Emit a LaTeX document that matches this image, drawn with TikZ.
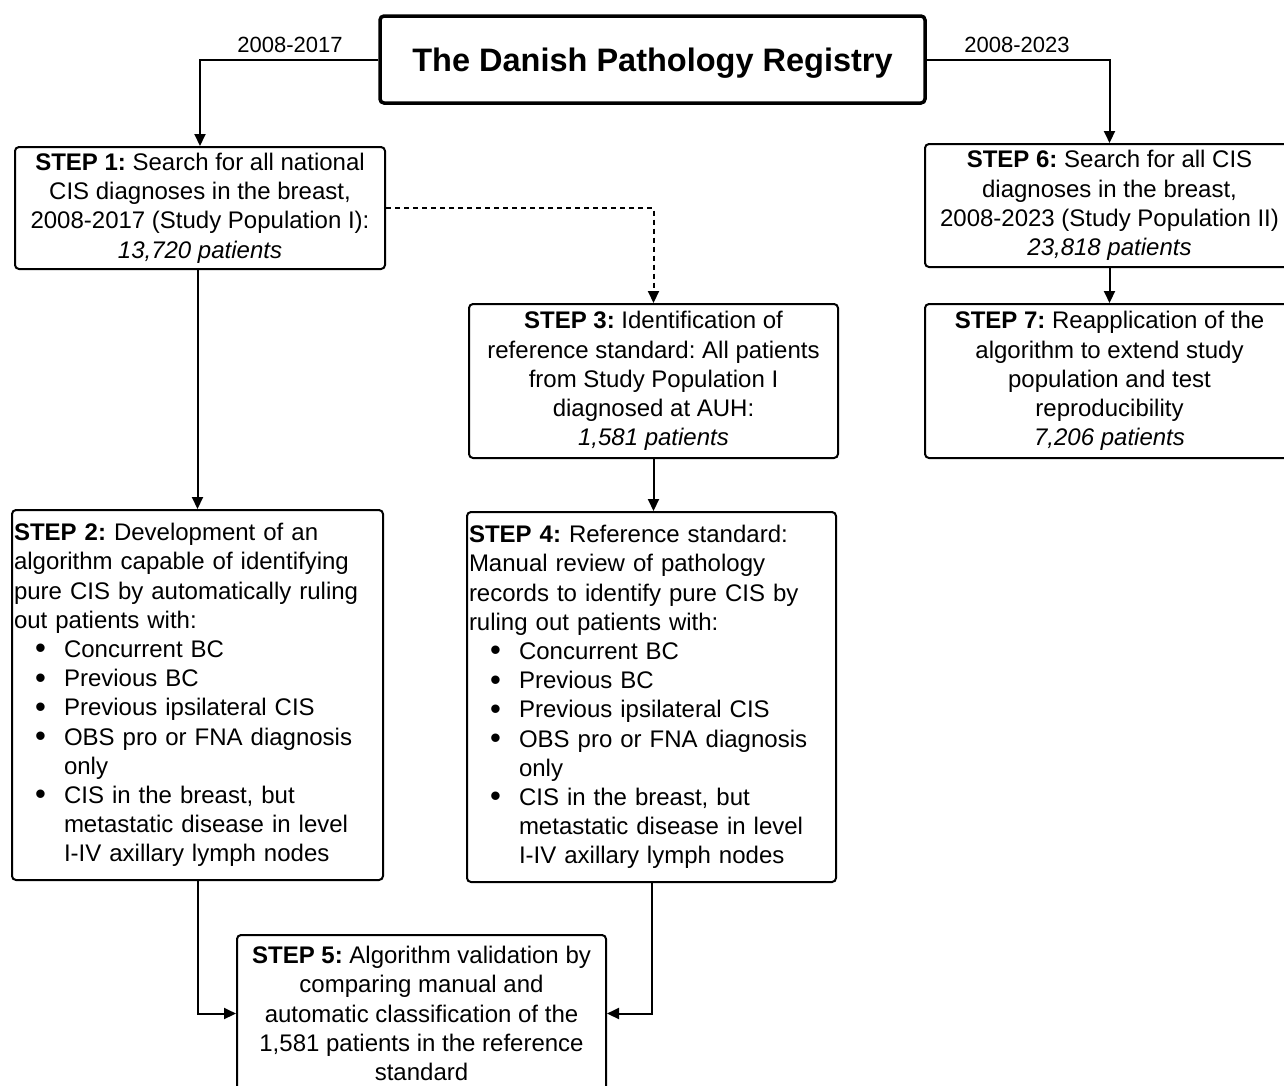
\documentclass[tikz,border=0pt]{standalone}
\usepackage{fontspec}
\setmainfont{Liberation Sans}
\usetikzlibrary{arrows.meta}
\frenchspacing
\newcommand{\blt}[1]{\hspace*{21pt}\makebox[29pt][l]{\raisebox{-1.5pt}{\fontsize{31}{29}\selectfont\textbullet}}#1}
\newcommand{\bcont}[1]{\hspace*{50pt}#1}
\begin{document}
\begin{tikzpicture}[x=1pt,y=-1pt,
  box/.style={draw, line width=2pt, rounded corners=4pt, inner sep=2pt, font=\fontsize{24}{29.2}\selectfont},
  cbox/.style={box, align=center},
  lbox/.style={box, align=left},
  arr/.style={line width=2pt, -{Triangle[length=12pt,width=11pt]}},
  yr/.style={font=\fontsize{22}{26}\selectfont, inner sep=0pt}]
\clip (0,0) rectangle (1284,1085);
\node[box, line width=3.5pt, font=\bfseries\fontsize{32.5}{38}\selectfont, minimum width=545pt, minimum height=87pt, text depth=0pt] (title) at (652.5,59.5) {The Danish Pathology Registry};
\node[cbox, minimum width=370pt, minimum height=122pt] (step1) at (200,208)
 {\textbf{STEP 1:} Search for all national\\CIS diagnoses in the breast,\\2008-2017 (Study Population I):\\\textit{13,720 patients}};
\node[cbox, minimum width=369pt, minimum height=123pt] (step6) at (1109.5,205.5)
 {\textbf{STEP 6:} Search for all CIS\\diagnoses in the breast,\\2008-2023 (Study Population II)\\\textit{23,818 patients}};
\node[cbox, minimum width=369pt, minimum height=154pt] (step7) at (1109.5,381)
 {\textbf{STEP 7:} Reapplication of the\\algorithm to extend study\\population and test\\reproducibility\\\textit{7,206 patients}};
\node[cbox, minimum width=369pt, minimum height=154pt] (step3) at (653.5,381)
 {\textbf{STEP 3:} Identification of\\reference standard: All patients\\from Study Population I\\diagnosed at AUH:\\\textit{1,581 patients}};
\node[lbox, text width=367pt, minimum height=370pt] (step2) at (197.5,695)
 {\textbf{STEP 2:} Development of an\\algorithm capable of identifying\\pure CIS by automatically ruling\\out patients with:\\
 \blt{Concurrent BC}\\\blt{Previous BC}\\\blt{Previous ipsilateral CIS}\\\blt{OBS pro or FNA diagnosis}\\\bcont{only}\\\blt{CIS in the breast, but}\\\bcont{metastatic disease in level}\\\bcont{I-IV axillary lymph nodes}};
\node[lbox, text width=365pt, minimum height=370pt] (step4) at (651.5,697)
 {\textbf{STEP 4:} Reference standard:\\Manual review of pathology\\records to identify pure CIS by\\ruling out patients with:\\
 \blt{Concurrent BC}\\\blt{Previous BC}\\\blt{Previous ipsilateral CIS}\\\blt{OBS pro or FNA diagnosis}\\\bcont{only}\\\blt{CIS in the breast, but}\\\bcont{metastatic disease in level}\\\bcont{I-IV axillary lymph nodes}};
\node[cbox, minimum width=369pt, minimum height=157pt] (step5) at (421.5,1013.5)
 {\textbf{STEP 5:} Algorithm validation by\\comparing manual and\\automatic classification of the\\1,581 patients in the reference\\standard};
\node[yr] (y1) at (290,45) {2008-2017};
\node[yr] (y2) at (1017,45) {2008-2023};
\draw[arr] (title.west) -| (step1.north);
\draw[arr] (title.east) -| (step6.north);
\draw[arr, dash pattern=on 5pt off 4pt] (step1.east) -| (step3.north);
\draw[arr] (step2.north |- step1.south) -- (step2.north);
\draw[arr] (step3.south) -- (step3.south |- step4.north);
\draw[arr] (step6.south) -- (step7.north);
\draw[arr] (step2.south) |- (step5.west);
\draw[arr] (step4.south) |- (step5.east);
\end{tikzpicture}
\end{document}
